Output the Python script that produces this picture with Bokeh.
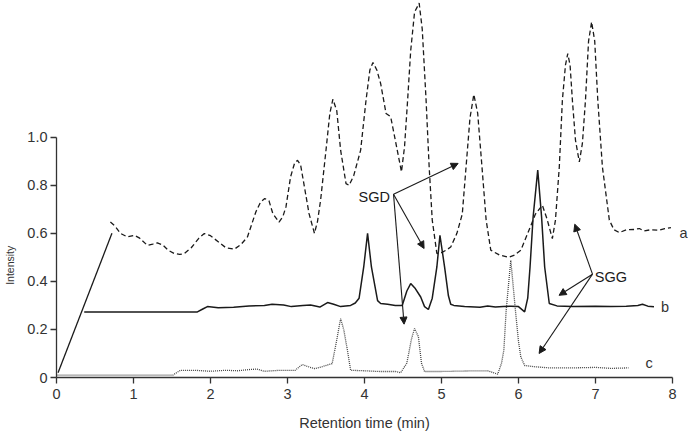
from bokeh.plotting import figure
from bokeh.models import (Range1d, FixedTicker, CustomJSTickFormatter, Label,
                          Arrow, NormalHead, LinearAxis)
from bokeh.embed import file_html
from bokeh.resources import INLINE

# ---------------- data ----------------
# curve a (dashed)
a_x = [0.70, 0.76, 0.83, 0.92, 1.01, 1.08, 1.18, 1.25, 1.31, 1.38, 1.45, 1.53,
       1.60, 1.66, 1.75, 1.85, 1.92, 2.00, 2.10, 2.20, 2.31, 2.40, 2.48, 2.59,
       2.65, 2.705, 2.76, 2.81, 2.89, 2.94, 2.98, 3.04, 3.09, 3.13, 3.17, 3.22,
       3.28, 3.35, 3.39, 3.43, 3.50, 3.55, 3.59, 3.64, 3.69, 3.76, 3.80, 3.86,
       3.95, 4.02, 4.07, 4.11, 4.16, 4.21, 4.28, 4.34, 4.40, 4.48, 4.52, 4.56,
       4.60, 4.65, 4.71, 4.75, 4.80, 4.84, 4.88, 4.94, 5.00, 5.06, 5.12, 5.20,
       5.27, 5.32, 5.37, 5.42, 5.47, 5.52, 5.58, 5.64, 5.75, 5.87, 5.95, 6.03,
       6.12, 6.22, 6.31, 6.37, 6.44, 6.48, 6.53, 6.57, 6.61, 6.64, 6.67, 6.70,
       6.74, 6.79, 6.83, 6.87, 6.91, 6.95, 6.99, 7.03, 7.09, 7.18, 7.24, 7.31,
       7.40, 7.50, 7.57, 7.63, 7.72, 7.83, 7.90, 7.98]
a_y = [0.647, 0.63, 0.600, 0.585, 0.592, 0.58, 0.550, 0.555, 0.560, 0.552, 0.53, 0.516,
       0.512, 0.516, 0.54, 0.58, 0.599, 0.59, 0.565, 0.54, 0.534, 0.555, 0.585, 0.69,
       0.73, 0.745, 0.735, 0.682, 0.647, 0.67, 0.71, 0.835, 0.89, 0.904, 0.885, 0.793,
       0.682, 0.600, 0.65, 0.738, 0.946, 1.10, 1.158, 1.11, 0.946, 0.807, 0.800, 0.84,
       0.946, 1.154, 1.28, 1.311, 1.28, 1.223, 1.099, 1.085, 0.988, 0.856, 0.96, 1.154,
       1.36, 1.52, 1.558, 1.45, 1.154, 0.876, 0.655, 0.516, 0.52, 0.53, 0.543, 0.60,
       0.68, 0.88, 1.08, 1.178, 1.10, 0.90, 0.655, 0.53, 0.51, 0.500, 0.51, 0.53,
       0.60, 0.68, 0.717, 0.66, 0.578, 0.655, 0.876, 1.154, 1.30, 1.348, 1.30, 1.154,
       0.988, 0.897, 0.974, 1.154, 1.40, 1.48, 1.40, 1.154, 0.876, 0.655, 0.615, 0.603,
       0.615, 0.616, 0.62, 0.61, 0.615, 0.613, 0.62, 0.624]

# curve b (solid)
b_x = [0.36, 1.83, 1.90, 1.96, 2.10, 2.30, 2.50, 2.70, 2.80, 2.95, 3.05, 3.20,
       3.30, 3.42, 3.52, 3.60, 3.69, 3.82, 3.88, 3.93, 3.99, 4.04, 4.09, 4.17,
       4.21, 4.30, 4.40, 4.49, 4.55, 4.60, 4.66, 4.73, 4.78, 4.83, 4.88, 4.94,
       4.98, 5.04, 5.09, 5.12, 5.16, 5.30, 5.50, 5.60, 5.70, 5.80, 5.90, 6.00,
       6.08, 6.12, 6.15, 6.19, 6.25, 6.30, 6.34, 6.40, 6.50, 6.70, 7.00, 7.20,
       7.40, 7.55, 7.61, 7.68, 7.76]
b_y = [0.273, 0.273, 0.285, 0.295, 0.290, 0.292, 0.298, 0.300, 0.305, 0.302, 0.295, 0.300,
       0.302, 0.293, 0.312, 0.305, 0.295, 0.300, 0.310, 0.330, 0.460, 0.600, 0.460, 0.320,
       0.308, 0.305, 0.300, 0.300, 0.360, 0.391, 0.370, 0.335, 0.295, 0.283, 0.330, 0.460,
       0.592, 0.460, 0.340, 0.305, 0.300, 0.295, 0.292, 0.298, 0.293, 0.295, 0.297, 0.295,
       0.273, 0.330, 0.460, 0.668, 0.863, 0.668, 0.460, 0.308, 0.298, 0.296, 0.297, 0.295,
       0.297, 0.300, 0.305, 0.297, 0.294]

# curve c (dotted)
c_x = [0.0, 1.51, 1.56, 1.61, 1.80, 2.00, 2.20, 2.35, 2.50, 2.60, 2.70, 2.90,
       3.10, 3.19, 3.27, 3.35, 3.45, 3.54, 3.58, 3.63, 3.69, 3.73, 3.78, 3.82,
       4.00, 4.20, 4.40, 4.47, 4.55, 4.61, 4.65, 4.70, 4.74, 4.78, 5.00, 5.30,
       5.60, 5.73, 5.78, 5.81, 5.84, 5.90, 5.96, 6.00, 6.03, 6.08, 6.20, 6.40,
       6.70, 7.00, 7.20, 7.43]
c_y = [0.010, 0.010, 0.020, 0.030, 0.030, 0.026, 0.030, 0.028, 0.033, 0.035, 0.026, 0.030,
       0.030, 0.054, 0.045, 0.037, 0.045, 0.054, 0.058, 0.140, 0.245, 0.200, 0.110, 0.030,
       0.028, 0.025, 0.025, 0.020, 0.060, 0.160, 0.204, 0.170, 0.060, 0.025, 0.025, 0.027,
       0.028, 0.014, 0.060, 0.114, 0.280, 0.488, 0.280, 0.150, 0.086, 0.050, 0.045, 0.040,
       0.040, 0.042, 0.038, 0.040]

# straight leader from the origin
lead_x = [0.02, 0.72]
lead_y = [0.02, 0.60]

x_ticks = [0, 1, 2, 3, 4, 5, 6, 7, 8]
y_ticks = [0, 0.2, 0.4, 0.6, 0.8, 1.0]

x_title = "Retention time (min)"
y_title = "Intensity"
x_title_at = 4.0      # centre of the x title along the x axis
y_title_at = 0.467    # centre of the y title along the y axis

curve_labels = ["a", "b", "c"]
curve_label_x = [8.09, 7.85, 7.65]
curve_label_y = [0.603, 0.294, 0.06]

sgd_origin = (4.377, 0.763)
sgd_ends = [(5.216, 0.891), (4.774, 0.537), (4.514, 0.222)]
sgg_origin = (6.961, 0.430)
sgg_ends = [(6.731, 0.638), (6.527, 0.342), (6.268, 0.100)]

# ---------------- figure ----------------
FONT = "Liberation Sans"
TXT = "#333333"
INK = "#1a1a1a"

p = figure(width=688, height=433, output_backend="svg", toolbar_location=None,
           x_range=Range1d(0, 8.208), y_range=Range1d(0, 1.569),
           min_border_left=56, min_border_right=0, min_border_top=0,
           min_border_bottom=56)
p.outline_line_color = None
p.grid.visible = False
p.background_fill_color = "white"
p.border_fill_color = "white"

p.line(lead_x, lead_y, line_color=INK, line_width=1.3)
p.line(a_x, a_y, line_color=INK, line_width=1.3, line_dash="5 3")
p.line(b_x, b_y, line_color=INK, line_width=1.5)
p.line(c_x, c_y, line_color="#444444", line_width=1.3, line_dash="1 1")

for ax in (p.xaxis[0], p.yaxis[0]):
    ax.axis_line_color = TXT
    ax.axis_line_width = 1.3
    ax.major_tick_line_color = TXT
    ax.major_tick_line_width = 1.3
    ax.major_tick_in = 0
    ax.major_tick_out = 6
    ax.minor_tick_line_color = None
    ax.major_label_text_font = FONT
    ax.major_label_text_font_size = "14.5px"
    ax.major_label_text_color = TXT

p.xaxis.bounds = (0, 8)
p.yaxis.bounds = (0, 1.0)
p.xaxis.ticker = FixedTicker(ticks=x_ticks)
p.yaxis.ticker = FixedTicker(ticks=y_ticks)
p.yaxis.formatter = CustomJSTickFormatter(code="return tick == 0 ? '0' : tick.toFixed(1);")
p.xaxis.major_label_standoff = 5
p.yaxis.major_label_standoff = 3

# axis titles: bare outer axes carrying one label each, placed by data position
x_title_axis = LinearAxis(ticker=FixedTicker(ticks=[x_title_at]),
                          major_label_overrides={x_title_at: x_title},
                          axis_line_color=None, major_tick_line_color=None,
                          minor_tick_line_color=None, major_tick_out=0, major_tick_in=0,
                          major_label_standoff=13, major_label_text_font=FONT,
                          major_label_text_font_size="14.5px", major_label_text_color=TXT)
p.add_layout(x_title_axis, "below")

y_title_axis = LinearAxis(ticker=FixedTicker(ticks=[y_title_at]),
                          major_label_overrides={y_title_at: y_title},
                          major_label_orientation="vertical",
                          axis_line_color=None, major_tick_line_color=None,
                          minor_tick_line_color=None, major_tick_out=0, major_tick_in=0,
                          major_label_standoff=8, major_label_text_font=FONT,
                          major_label_text_font_size="10.5px", major_label_text_color=TXT)
p.add_layout(y_title_axis, "left")

# curve labels
for t, lx, ly in zip(curve_labels, curve_label_x, curve_label_y):
    p.add_layout(Label(x=lx, y=ly, text=t, text_align="left", text_baseline="middle",
                       text_font=FONT, text_font_size="14.5px", text_color=TXT))

# SGD / SGG annotations
p.add_layout(Label(x=4.33, y=0.752, text="SGD", text_align="right", text_baseline="middle",
                   text_font=FONT, text_font_size="14.5px", text_color=INK))
p.add_layout(Label(x=6.99, y=0.419, text="SGG", text_align="left", text_baseline="middle",
                   text_font=FONT, text_font_size="14.5px", text_color=INK))

for origin, ends in ((sgd_origin, sgd_ends), (sgg_origin, sgg_ends)):
    for ex, ey in ends:
        p.add_layout(Arrow(x_start=origin[0], y_start=origin[1], x_end=ex, y_end=ey,
                           line_color=INK, line_width=1.1,
                           end=NormalHead(size=7, fill_color=INK, line_color=INK)))

open("out.html", "w").write(file_html(p, INLINE))
